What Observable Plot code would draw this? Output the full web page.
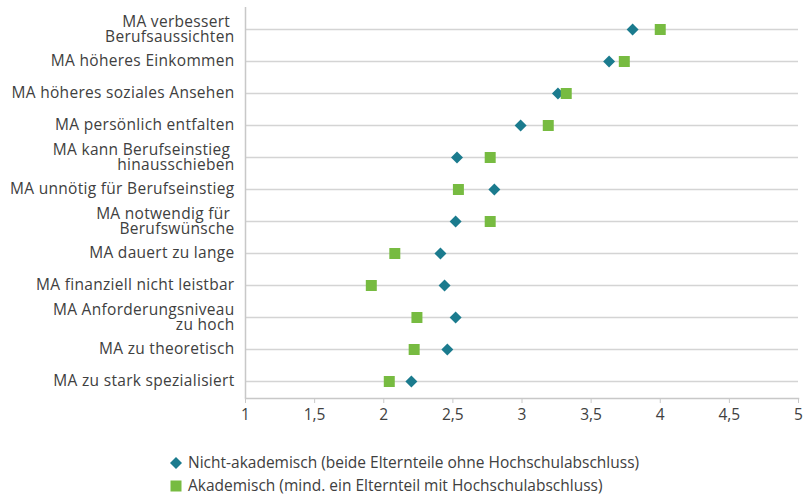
<!DOCTYPE html>
<html><head><meta charset="utf-8">
<script src="https://cdn.jsdelivr.net/npm/d3@7"></script>
<script src="https://cdn.jsdelivr.net/npm/@observablehq/plot@0.6"></script>
<style>
body{margin:0;background:#fff;font-family:"Open Sans",sans-serif;color:#404040;}
#legend{margin-left:170px;padding-top:21px;font-size:15.5px;line-height:23px;}
#legend .row{display:flex;align-items:center;height:23px;}
#legend svg{margin-right:6px;}
</style></head><body>
<div id="chart"></div>
<div id="legend"></div>
<script>
const categories = [
  "MA verbessert \nBerufsaussichten",
  "MA höheres Einkommen",
  "MA höheres soziales Ansehen",
  "MA persönlich entfalten",
  "MA kann Berufseinstieg \nhinausschieben",
  "MA unnötig für Berufseinstieg",
  "MA notwendig für \nBerufswünsche",
  "MA dauert zu lange",
  "MA finanziell nicht leistbar",
  "MA Anforderungsniveau\nzu hoch",
  "MA zu theoretisch",
  "MA zu stark spezialisiert"
];
const nichtAkademisch = [3.80, 3.63, 3.26, 2.99, 2.53, 2.80, 2.52, 2.41, 2.44, 2.52, 2.46, 2.20];
const akademisch      = [4.00, 3.74, 3.32, 3.19, 2.77, 2.54, 2.77, 2.08, 1.91, 2.24, 2.22, 2.04];
const xTicks = [1, 1.5, 2, 2.5, 3, 3.5, 4, 4.5, 5];
const seriesNames = [
  "Nicht-akademisch (beide Elternteile ohne Hochschulabschluss)",
  "Akademisch (mind. ein Elternteil mit Hochschulabschluss)"
];
const seriesColors = ["#1b7b8e", "#77bb41"];

const rows = categories.map((c, i) => ({kategorie: c, nicht: nichtAkademisch[i], akad: akademisch[i]}));
const fmt = d => String(d).replace(".", ",");

const chart = Plot.plot({
  width: 803,
  height: 430,
  marginLeft: 245,
  marginRight: 5,
  marginTop: 7,
  marginBottom: 32,
  style: {fontFamily: "'Open Sans', sans-serif", fontSize: "15.5px", color: "#404040", background: "#fff"},
  x: {domain: [1, 5]},
  y: {type: "point", domain: categories, padding: 0.5, range: [12, 398]},
  marks: [
    Plot.ruleY(categories, {stroke: "#d4d4d4", strokeWidth: 1.5}),
    Plot.ruleX([1], {stroke: "#c8c8c8", strokeWidth: 1.5}),
    Plot.frame({anchor: "bottom", stroke: "#c8c8c8", strokeWidth: 1.5}),
    Plot.axisX({ticks: xTicks, tickFormat: fmt, tickSize: 5, tickPadding: 5, stroke: "#c8c8c8", fill: "#404040", label: null}),
    Plot.axisY({tickSize: 0, tickPadding: 11, fill: "#404040", label: null, lineHeight: 0.97, style: {letterSpacing: "0.3px"}}),
    Plot.dot(rows, {x: "nicht", y: "kategorie", symbol: "diamond2", r: 5.4, fill: seriesColors[0], stroke: "none"}),
    Plot.dot(rows, {x: "akad", y: "kategorie", symbol: "square", r: 6.2, fill: seriesColors[1], stroke: "none"})
  ]
});
chart.querySelectorAll("g[aria-label='y-axis tick label'] text").forEach(t => t.style.letterSpacing = "0.3px");
document.getElementById("chart").appendChild(chart);

const legend = document.getElementById("legend");
const symbols = ["M6 0L12 6L6 12L0 6Z", "M0.5 0.5H11.5V11.5H0.5Z"];
seriesNames.forEach((name, i) => {
  const row = document.createElement("div");
  row.className = "row";
  row.innerHTML = `<svg width="12" height="12" viewBox="0 0 12 12"><path d="${symbols[i]}" fill="${seriesColors[i]}"/></svg><span>${name}</span>`;
  legend.appendChild(row);
});
</script>
</body></html>
